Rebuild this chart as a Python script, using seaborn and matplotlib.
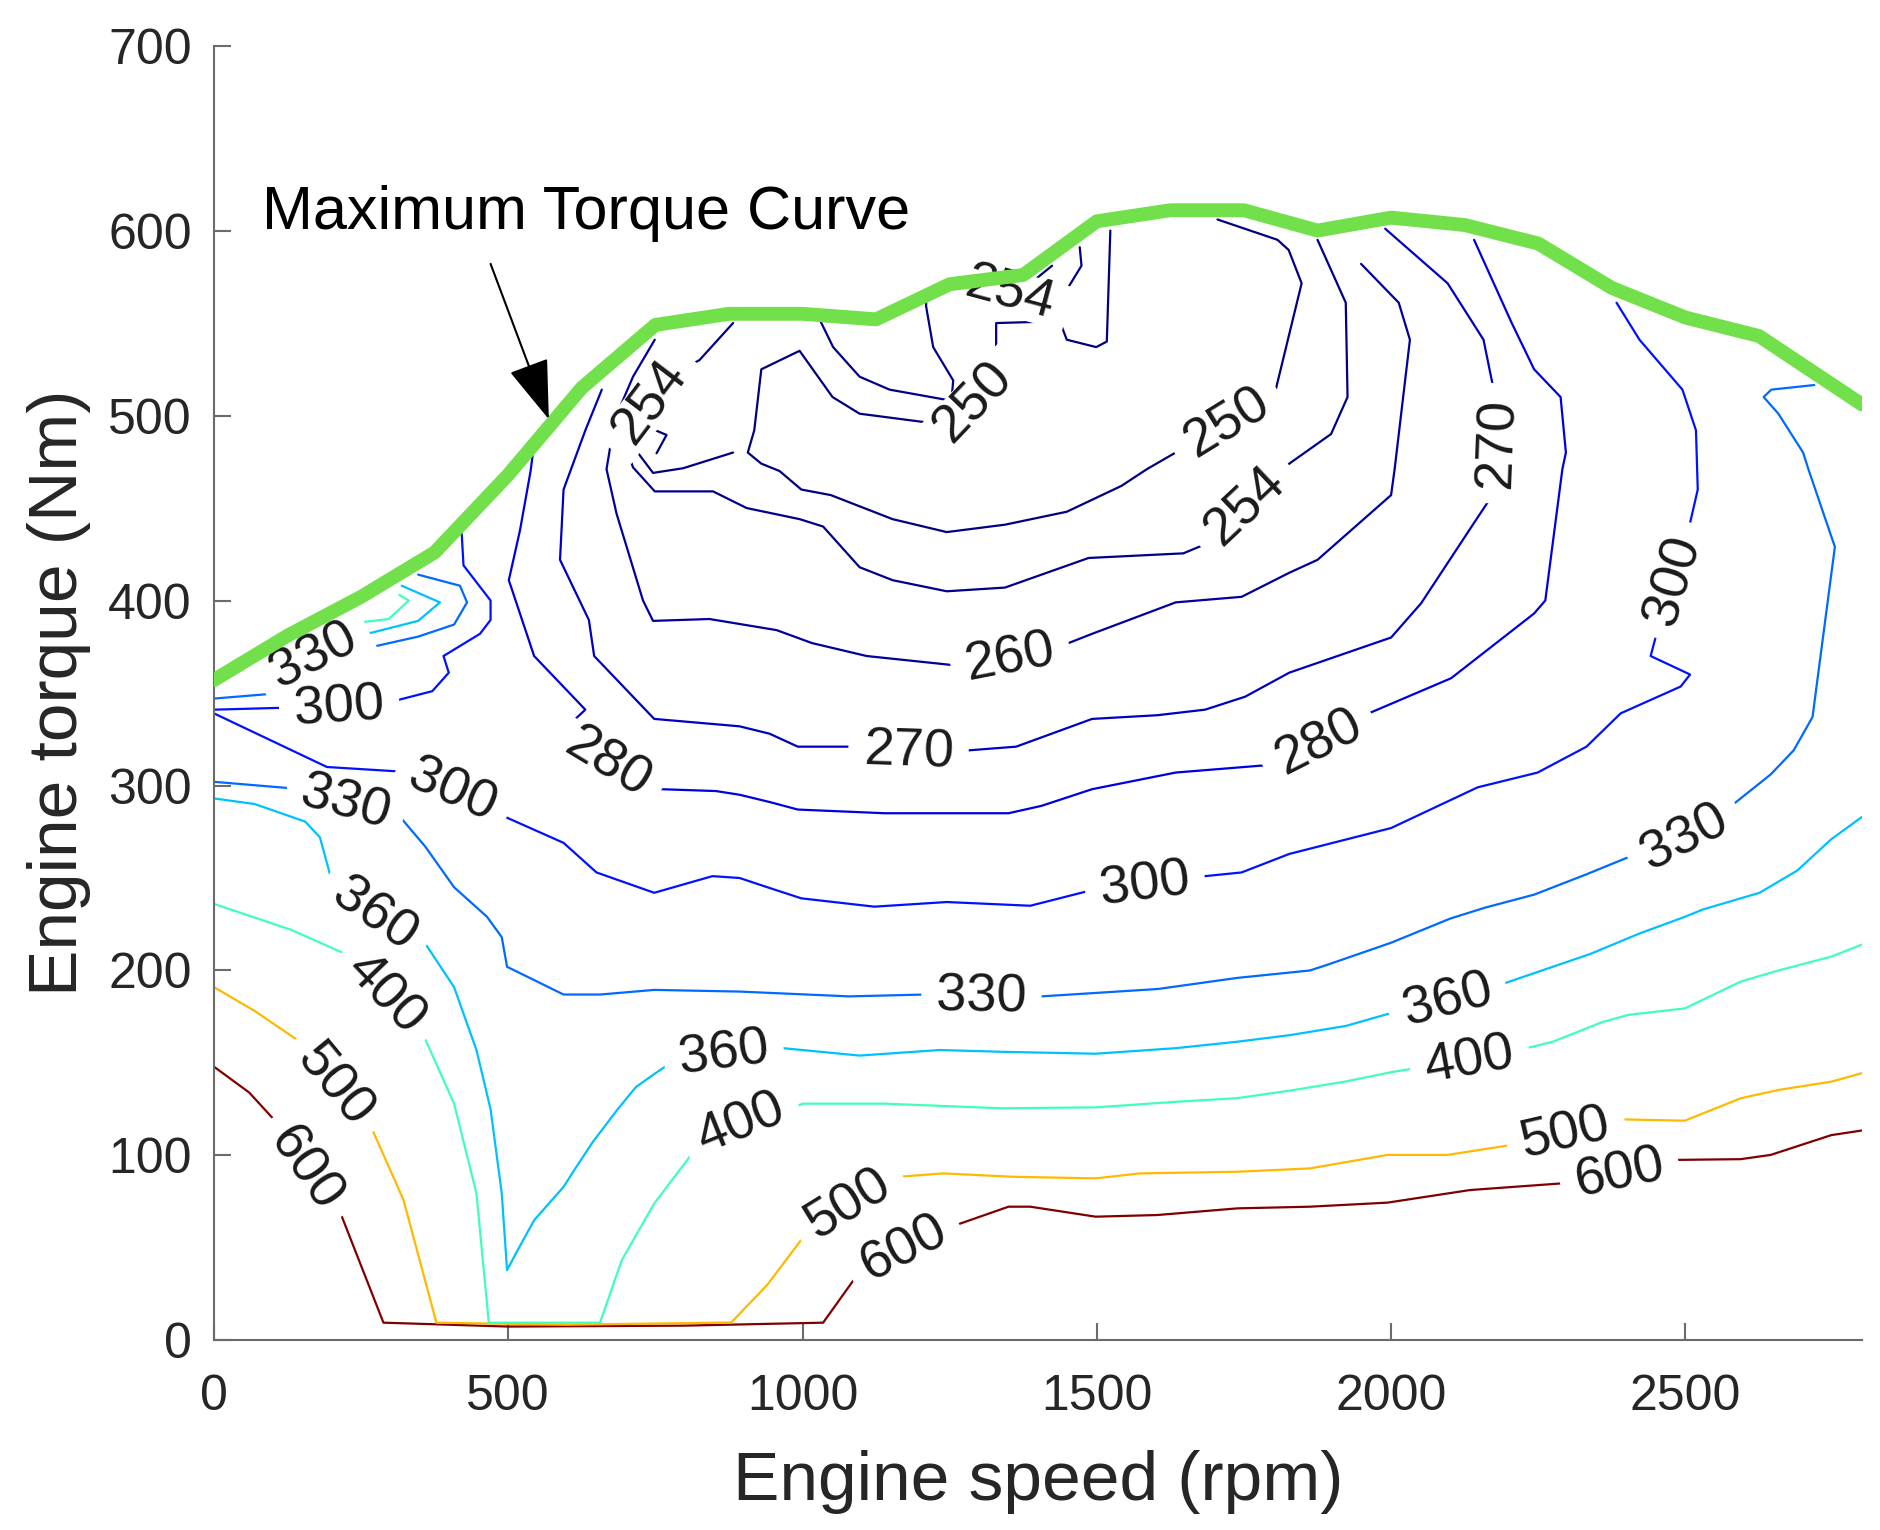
import numpy as np
import matplotlib
matplotlib.use("Agg")
import matplotlib.pyplot as plt
import seaborn as sns
from matplotlib.patches import Rectangle
from matplotlib.transforms import Affine2D

# engine speed grid (rpm) and the full-load torque (Nm)
speed_grid = [0, 125, 250, 375, 500, 625, 750, 875, 1000, 1125, 1250, 1375, 1500,
              1625, 1750, 1875, 2000, 2125, 2250, 2375, 2500, 2625, 2800]
max_torque = [357, 381, 402, 426, 468, 515, 549, 555, 555, 552, 571, 576, 605,
              611, 611, 600, 607, 603, 593, 569, 553, 543, 506]

# iso-BSFC lines (g/kWh), traced as (rpm, Nm) points
iso600 = [(0, 148), (60, 134), (106, 118), (155, 93), (216, 68), (288, 9.6), (500, 7.5),
          (800, 8), (1035, 9.6), (1091, 34.5), (1172, 50), (1261, 62.4), (1350, 72.3),
          (1387, 72.3), (1498, 66.9), (1603, 67.8), (1739, 71.4), (1862, 72.3), (1994, 74.5),
          (2134, 81.3), (2294, 85), (2388, 90.4), (2486, 97.6), (2594, 98), (2645, 100.3),
          (2748, 111), (2800, 113.5)]
iso500 = [(0, 191), (70, 178), (146, 161.5), (205, 138), (269, 114), (322, 76), (378, 9.6),
          (600, 8.5), (879, 9.7), (940, 30), (1004, 57), (1079, 74), (1165, 88.5),
          (1239, 90.3), (1356, 88.5), (1498, 87.6), (1573, 90.3), (1739, 91.2), (1862, 93),
          (1994, 100.3), (2096, 100.3), (2205, 105.7), (2297, 112), (2393, 119.5),
          (2499, 118.8), (2594, 130.9), (2658, 135.4), (2748, 139.9), (2800, 144.5)]
iso400 = [(0, 236), (131, 222), (223, 209), (291, 187), (356, 165), (408, 128), (446, 79.5),
          (467, 9.6), (656, 9.6), (693, 43.5), (748, 74), (822, 105), (896, 117), (1001, 128),
          (1140, 128), (1338, 125.5), (1498, 126), (1634, 129), (1739, 131), (1827, 135),
          (1923, 140), (2000, 145), (2038, 147), (2134, 151), (2230, 158), (2275, 161.5),
          (2358, 172), (2403, 176), (2499, 179.5), (2594, 194), (2658, 200), (2748, 207.5),
          (2800, 214)]
iso400_top = [(190, 386), (297, 390), (331, 400), (315, 403)]
iso360 = [(0, 293), (69, 290), (155, 280.5), (180, 272), (198, 251), (272, 230), (356, 216),
          (408, 191), (446, 157), (470, 125), (489, 79.5), (498, 38), (513, 47), (544, 65),
          (594, 83), (612, 92), (643, 107), (686, 125), (717, 137), (748, 144), (776, 150),
          (866, 155), (967, 158), (1097, 154), (1233, 157), (1344, 156), (1498, 155),
          (1634, 158), (1739, 161.5), (1827, 165), (1923, 170), (2000, 177), (2096, 184),
          (2192, 193), (2339, 209), (2422, 220), (2499, 229), (2530, 233), (2626, 242),
          (2690, 254), (2748, 271), (2800, 283)]
iso360_top = [(134, 377), (248, 381), (347, 389), (384, 399), (319, 408)]
iso330 = [(0, 302), (131, 298.5), (223, 290.4), (319, 282), (359, 267), (408, 245),
          (464, 229), (489, 218), (498, 202), (594, 187), (656, 187), (748, 189.5),
          (893, 188.6), (1079, 186), (1208, 187), (1304, 185.5), (1406, 186), (1604, 190),
          (1739, 196), (1862, 200), (1891, 203), (2000, 215), (2100, 228), (2160, 234),
          (2243, 241), (2332, 252), (2409, 262), (2499, 272), (2582, 290), (2645, 306),
          (2684, 319), (2716, 337), (2754, 429), (2709, 471), (2700, 480), (2658, 501),
          (2633, 510), (2646, 514), (2719, 516.5)]
iso330_top = [(0, 347), (115, 350), (170, 370), (270, 375), (347, 380.5), (408, 387),
              (430, 399), (418, 408), (347, 414)]
iso300 = [(0, 339), (192, 310), (319, 307.5), (405, 297), (495, 283), (594, 269), (650, 253),
          (748, 242), (847, 251), (893, 250), (945, 244.5), (998, 239), (1122, 234.5),
          (1245, 237), (1387, 235), (1486, 243), (1582, 246), (1684, 251), (1746, 253),
          (1827, 263), (2000, 277), (2147, 299), (2249, 307), (2332, 321), (2390, 339),
          (2492, 353.5), (2508, 360), (2441, 370), (2451, 382), (2479, 411), (2508, 442),
          (2521, 460), (2518, 492), (2495, 514), (2422, 541), (2383, 561)]
iso300_top = [(0, 341), (115, 342), (213, 342), (310, 346), (371, 351), (399, 361),
              (390, 370), (452, 382), (470, 389.5), (470, 400), (424, 419), (421, 436)]
iso280 = [(544, 485), (538, 470), (520, 438), (501, 411), (544, 370), (631, 341), (594, 330),
          (668, 312), (760, 298), (853, 297), (893, 295), (945, 291), (992, 287), (1140, 285),
          (1350, 285), (1406, 289), (1492, 298), (1634, 307), (1789, 311), (1877, 323),
          (1962, 339), (2102, 358), (2243, 393), (2262, 400), (2291, 471), (2297, 480),
          (2288, 510), (2243, 525), (2205, 550), (2141, 595)]
iso270 = [(659, 514), (631, 492), (594, 460), (588, 422), (637, 389.5), (646, 370), (748, 336),
          (893, 332), (944, 328), (992, 321), (1085, 321), (1180, 318), (1282, 319),
          (1363, 321), (1492, 336), (1603, 338), (1684, 341), (1752, 348), (1827, 361),
          (2000, 380), (2051, 398.5), (2141, 442), (2166, 454), (2180, 485), (2173, 516),
          (2157, 541), (2096, 571.5), (1990, 601)]
iso260 = [(749, 541), (712, 521), (681, 498), (667, 471), (684, 447), (729, 400), (746, 389),
          (842, 390), (956, 384), (1016, 377), (1109, 370), (1258, 365), (1353, 369),
          (1452, 377), (1492, 382), (1634, 399), (1746, 402), (1827, 415), (1875, 422),
          (2000, 457), (2006, 471), (2032, 541), (2013, 561), (1949, 582)]
iso254 = [(882, 550), (825, 530), (808, 527), (740, 507), (701, 482), (712, 472), (749, 459),
          (848, 459), (905, 450), (995, 444), (1035, 440), (1097, 418), (1153, 411),
          (1245, 405), (1344, 407), (1486, 423), (1647, 425.5), (1681, 430), (1752, 451),
          (1827, 474), (1898, 490), (1926, 510), (1923, 561), (1875, 595)]
iso254_notch = [(1029, 552), (1052, 537), (1097, 521), (1148, 514), (1253, 508), (1256, 519),
                (1222, 537), (1210, 559), (1210, 566)]
iso254_top_a = [(1393, 573), (1424, 581)]
iso254_top_b = [(1449, 568), (1474, 581), (1471, 591)]
iso250 = [(1523, 600), (1517, 540), (1499, 537), (1449, 541), (1437, 551), (1329, 550),
          (1329, 533), (1289, 507), (1218, 496), (1097, 501), (1051, 510), (995, 535),
          (930, 525), (918, 492), (907, 480), (930, 474), (961, 470), (998, 460), (1048, 457),
          (1153, 444), (1245, 437), (1344, 441), (1449, 448), (1542, 462), (1585, 471),
          (1721, 496), (1804, 514), (1848, 571.5), (1826, 589.5), (1807, 595), (1705, 606)]
iso250_low = [(720, 480), (746, 469), (797, 471.5), (882, 480)]
iso250_bit = [(743, 493), (769, 489.5), (752, 479.6)]

pieces = [(600, iso600), (500, iso500), (400, iso400), (400, iso400_top),
          (360, iso360), (360, iso360_top), (330, iso330), (330, iso330_top),
          (300, iso300), (300, iso300_top), (280, iso280), (270, iso270), (260, iso260),
          (254, iso254), (254, iso254_notch), (254, iso254_top_a), (254, iso254_top_b),
          (250, iso250), (250, iso250_low), (250, iso250_bit)]

# inline labels: level, rpm, Nm (a vertex of that level's line)
labels = [(600, 155, 93), (600, 1172, 50), (600, 2388, 90.4),
          (500, 205, 138), (500, 1079, 74), (500, 2297, 112),
          (400, 291, 187), (400, 896, 117), (400, 2134, 151),
          (360, 272, 230), (360, 866, 155), (360, 2096, 184),
          (330, 223, 290.4), (330, 1304, 185.5), (330, 2499, 272), (330, 170, 370),
          (300, 405, 297), (300, 1582, 246), (300, 2479, 411), (300, 213, 342),
          (280, 668, 312), (280, 1877, 323),
          (270, 1180, 318), (270, 2180, 485),
          (260, 1353, 369),
          (254, 740, 507), (254, 1752, 451),
          (250, 1289, 507), (250, 1721, 496)]

sns.set_style("white")
plt.rcParams["font.family"] = ["Liberation Sans", "DejaVu Sans"]

fig = plt.figure(figsize=(18.8, 15.3), dpi=100)
ax = fig.add_axes([0.1138, 0.1239, 0.8766, 0.8463])
ax.set_xlim(0, 2800)
ax.set_ylim(0, 700)
renderer = fig.canvas.get_renderer()

cmap = matplotlib.colormaps["jet"]
norm = plt.Normalize(250, 600)

for level, pts in pieces:
    xs = [p[0] for p in pts]
    ys = [p[1] for p in pts]
    sns.lineplot(x=xs, y=ys, sort=False, estimator=None, color=cmap(norm(level)),
                 lw=1.6, ax=ax, zorder=2)


def put_label(txt, x, y, ang):
    # digits on top, a white strip under them that breaks the line
    t = ax.text(x, y, txt, fontsize=39, color="#1a1a1a", ha="center", va="center",
                zorder=3.5)
    bb = t.get_window_extent(renderer)
    w, h = bb.width + 30, bb.height * 0.9
    t.set_rotation(ang)
    t.set_rotation_mode("anchor")
    cx, cy = ax.transData.transform((x, y))
    ax.add_patch(Rectangle((-w / 2, -h / 2), w, h, fc="white", ec="none", zorder=2.5,
                           transform=Affine2D().rotate_deg(ang).translate(cx, cy)))


# label text sits on the line, turned along it
for level, lx, ly in labels:
    best = None
    for lev, pts in pieces:
        if lev != level:
            continue
        for i, p in enumerate(pts):
            d = abs(p[0] - lx) + abs(p[1] - ly)
            if best is None or d < best[0]:
                best = (d, pts, i)
    _, pts, i = best
    a = ax.transData.transform(pts[max(i - 1, 0)])
    b = ax.transData.transform(pts[min(i + 1, len(pts) - 1)])
    ang = np.degrees(np.arctan2(b[1] - a[1], b[0] - a[0]))
    if ang > 90:
        ang -= 180
    elif ang < -90:
        ang += 180
    put_label(str(level), lx, ly, ang)

# partly hidden label under the full-load curve
put_label("254", 1352, 566, -15)

sns.lineplot(x=speed_grid, y=max_torque, sort=False, estimator=None, color="#72e04a",
             lw=10, ax=ax, zorder=4)

ax.annotate("", xy=(569, 498), xytext=(470, 582),
            arrowprops=dict(arrowstyle="-|>,head_length=1.9,head_width=0.65",
                            mutation_scale=20, color="black", lw=1.5,
                            shrinkA=0, shrinkB=0), zorder=5)
ax.text(81, 601, "Maximum Torque Curve", fontsize=44, color="black",
        ha="left", va="baseline", zorder=5)

ax.set_xticks([0, 500, 1000, 1500, 2000, 2500])
ax.set_yticks([0, 100, 200, 300, 400, 500, 600, 700])
ax.tick_params(bottom=True, left=True, direction="in", length=12, width=1.5,
               color="#6b6b6b", labelsize=36, labelcolor="#262626")
ax.tick_params(axis="x", pad=24)
ax.tick_params(axis="y", pad=16)
for side in ["top", "right"]:
    ax.spines[side].set_visible(False)
for side in ["left", "bottom"]:
    ax.spines[side].set_color("#6b6b6b")
    ax.spines[side].set_linewidth(1.5)

ax.set_xlabel("Engine speed (rpm)", fontsize=50, color="#262626", labelpad=22)
ax.set_ylabel("Engine torque (Nm)", fontsize=50, color="#262626", labelpad=12)

fig.savefig("out.png", dpi=100, facecolor="white")
